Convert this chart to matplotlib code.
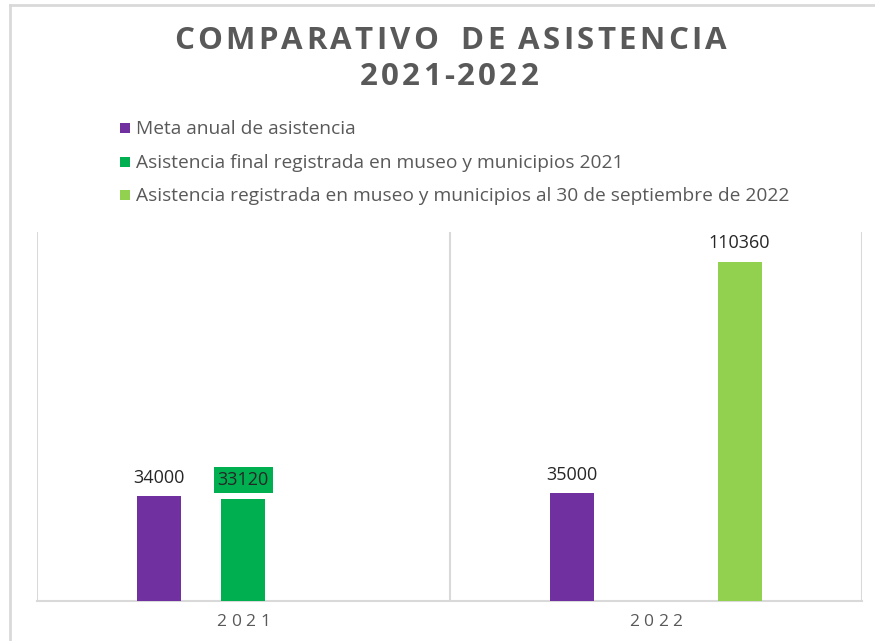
import matplotlib
matplotlib.use("Agg")
import matplotlib.pyplot as plt
from matplotlib.lines import Line2D
import numpy as np

plt.rcParams['font.family'] = ['Open Sans', 'DejaVu Sans']

title_lines = ["COMPARATIVO  DE ASISTENCIA", "2021-2022"]
categories = ["2021", "2022"]
series_names = [
    "Meta anual de asistencia",
    "Asistencia final registrada en museo y municipios 2021",
    "Asistencia registrada en museo y municipios al 30 de septiembre de 2022",
]
series_values = [
    [34000, 35000],
    [33120, None],
    [None, 110360],
]
colors = ["#7030A0", "#00B050", "#92D050"]

W, H = 875, 641
fig = plt.figure(figsize=(8.75, 6.41), dpi=100)
ax = fig.add_axes([37/W, 40/H, (862-37)/W, (601-232)/H])
renderer = fig.canvas.get_renderer()


def tracked_text(xc_px, yc_px, s, track_px, space_frac=0.45, **kw):
    """Draw string s centred at pixel (xc, yc from top) with extra letter spacing."""
    widths = []
    for ch in s:
        t = fig.text(0, 0, ch if ch != " " else "n", **kw)
        w = t.get_window_extent(renderer).width
        if ch == " ":
            w *= space_frac
        widths.append(w)
        t.remove()
    total = sum(widths) + track_px * (len(s) - 1)
    x = xc_px - total / 2
    for ch, w in zip(s, widths):
        if ch != " ":
            fig.text(x / W, 1 - yc_px / H, ch, ha="left", va="center", **kw)
        x += w + track_px


x = np.arange(len(categories))
slot = 0.2034
width = 0.1065
for i, (name, vals, c) in enumerate(zip(series_names, series_values, colors)):
    offs = (i - 1) * slot
    for j, v in enumerate(vals):
        if v is None:
            continue
        ax.bar(x[j] + offs, v, width=width, color=c, zorder=3)
        kw = dict(xytext=(0, 13.5), textcoords="offset points", ha="center", va="center",
                  fontsize=13, color="#262626")
        if i == 1:
            kw["bbox"] = dict(boxstyle="square,pad=0.22", fc=c, ec="none")
        ax.annotate(f"{v}", (x[j] + offs, v), **kw)

ax.set_xlim(-0.5, 1.5)
ax.set_ylim(0, 120000)
ax.set_yticks([])
ax.set_xticks(x)
ax.set_xticklabels([])
ax.tick_params(axis="x", length=0)
for s in ["top", "right", "left"]:
    ax.spines[s].set_visible(False)
ax.spines["bottom"].set_color("#D9D9D9")
ax.spines["bottom"].set_linewidth(1.5)
for xv in [-0.5, 0.5, 1.5]:
    ax.axvline(xv, color="#D9D9D9", lw=1.5, zorder=1)

# category labels with letter spacing
for xi, cat in zip(x, categories):
    xp = ax.transData.transform((xi, 0))[0]
    tracked_text(xp, 622, cat, 4.5, fontsize=12.5, color="#595959")

# legend (manual rows)
leg_y = [128, 162, 195]
for name, c, yy in zip(series_names, colors, leg_y):
    fig.patches.append(plt.Rectangle((120/W, 1 - (yy + 5)/H), 10/W, 10/H,
                                     transform=fig.transFigure, fc=c, ec="none"))
    fig.text(136/W, 1 - (yy + 1)/H, name, fontsize=13.8, color="#595959", va="center", ha="left")

tracked_text(450, 41, title_lines[0], 3.35, space_frac=0.3, fontsize=22.5, fontweight="bold", color="#595959")
tracked_text(449, 77, title_lines[1], 3.2, fontsize=22.5, fontweight="bold", color="#595959")

# outer frame
fig.add_artist(Line2D([10/W, 10/W], [0, 1 - 5/H], transform=fig.transFigure,
                      color="#D9D9D9", lw=2))
fig.add_artist(Line2D([10/W, 874/W], [1 - 5/H, 1 - 5/H], transform=fig.transFigure,
                      color="#D9D9D9", lw=2))

fig.savefig("out.png", dpi=100)
